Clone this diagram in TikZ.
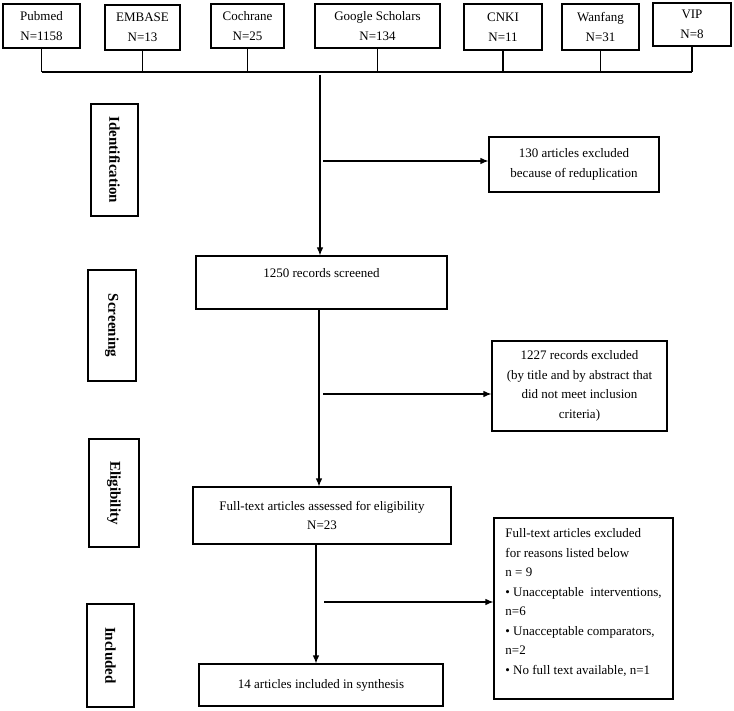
\documentclass[tikz,border=0pt]{standalone}
\usepackage{fontspec}
\setmainfont{Liberation Serif}
\usetikzlibrary{arrows.meta,calc}
\begin{document}
\begin{tikzpicture}[x=1pt,y=-1pt,
  box/.style={draw, line width=1.1pt, inner sep=0pt, align=center, font=\fontsize{13}{19.5}\selectfont},
  stage/.style={draw, line width=1.1pt, inner sep=0pt, rotate=-90, font=\fontsize{15}{18}\selectfont\bfseries},
  conn/.style={line width=1.1pt},
  arr/.style={line width=1.1pt, -{Latex[length=8pt,width=6.5pt]}}]
\useasboundingbox (0,0) rectangle (734,711);

% sources
\node[box, minimum width=77pt, minimum height=44pt] (pub) at (41.5,26) {Pubmed\\N=1158};
\node[box, minimum width=75pt, minimum height=45pt] (emb) at (142.5,27.5) {EMBASE\\N=13};
\node[box, minimum width=73pt, minimum height=44pt] (coc) at (247.5,26) {Cochrane\\N=25};
\node[box, minimum width=125pt, minimum height=44pt] (goo) at (377.5,26) {Google Scholars\\N=134};
\node[box, minimum width=78pt, minimum height=46pt] (cnk) at (503,27) {CNKI\\N=11};
\node[box, minimum width=77pt, minimum height=46pt] (wan) at (600.5,27) {Wanfang\\N=31};
\node[box, minimum width=78pt, minimum height=43pt] (vip) at (692,24.5) {VIP\\N=8};

% stages
\node[stage, minimum width=112pt, minimum height=47pt] (sid) at (114.5,160) {Identification};
\node[stage, minimum width=111pt, minimum height=48pt] (ssc) at (112,325.5) {Screening};
\node[stage, minimum width=108pt, minimum height=50pt] (sel) at (114,493) {Eligibility};
\node[stage, minimum width=103pt, minimum height=47pt] (sin) at (110.5,655.5) {Included};

% flow boxes
\node[box, minimum width=170pt, minimum height=55pt] (ex1) at (574,164.5) {130 articles excluded\\because of reduplication};
\node[box, minimum width=251pt, minimum height=53pt] (scr) at (321.5,282.5) {1250 records screened\\\mbox{}};
\node[box, minimum width=175pt, minimum height=90pt] (ex2) at (579.5,386) {1227 records excluded\\(by title and by abstract that\\did not meet inclusion\\criteria)};
\node[box, minimum width=258pt, minimum height=57pt] (ft) at (322,515.5) {Full-text articles assessed for eligibility\\N=23};
\node[box, align=left, minimum width=179pt, minimum height=181pt] (ex3) at (583.5,608.5) {Full-text articles excluded\\for reasons listed below\\n = 9\\• Unacceptable~ interventions,\\n=6\\• Unacceptable comparators,\\n=2\\• No full text available, n=1\\[-5pt]\mbox{}};
\node[box, minimum width=244pt, minimum height=42pt] (inc) at (321,685) {14 articles included in synthesis};

% bus
\coordinate (bus) at (0,72);
\foreach \n in {pub,emb,coc,goo,cnk,wan,vip}
  \draw[conn] (\n.south) -- (\n.south |- bus);
\draw[conn] (pub.south |- bus) -- (vip.south |- bus);

% main flow
\coordinate (top) at (320,75);
\coordinate (v2) at (319,0);
\coordinate (v3) at (316,0);
\draw[arr] (top) -- (top |- scr.north);
\draw[arr] (scr.south -| v2) -- (ft.north -| v2);
\draw[arr] (ft.south -| v3) -- (inc.north -| v3);

% exclusions
\coordinate (b1) at (323,161);
\coordinate (b2) at (323,394);
\coordinate (b3) at (324,602);
\draw[arr] (b1) -- (b1 -| ex1.west);
\draw[arr] (b2) -- (b2 -| ex2.west);
\draw[arr] (b3) -- (b3 -| ex3.west);
\end{tikzpicture}
\end{document}
